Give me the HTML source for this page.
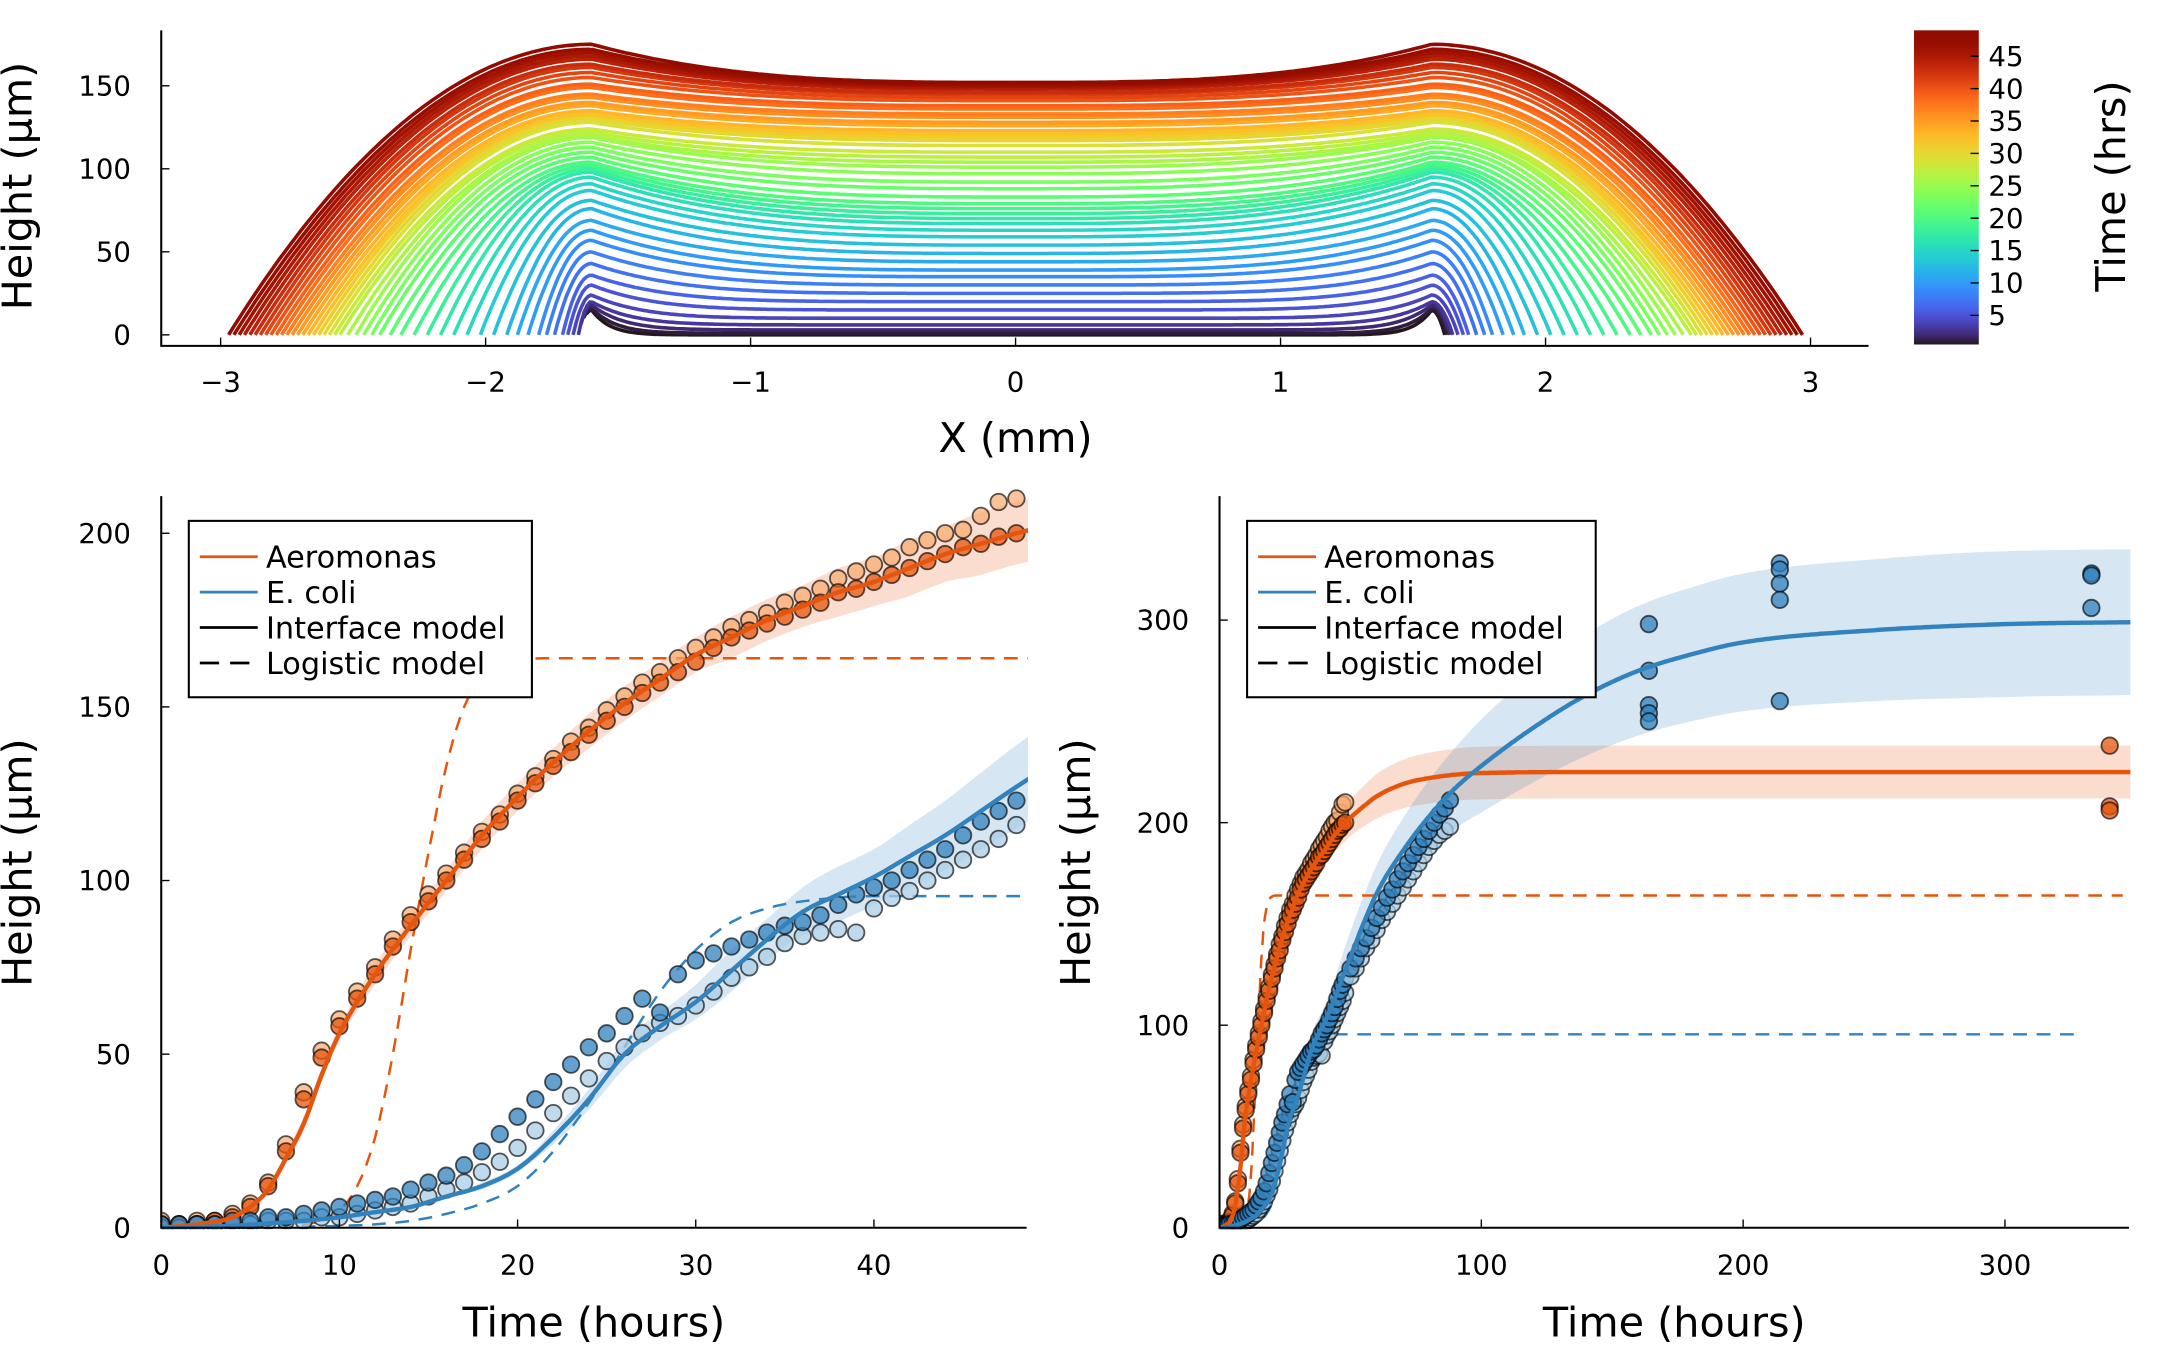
<!DOCTYPE html>
<html><head><meta charset="utf-8">
<style>
html,body{margin:0;padding:0;background:#fff;}
svg{display:block;font-family:"DejaVu Sans","Liberation Sans",sans-serif;}
</style></head>
<body>
<svg id="fig" width="2160" height="1350" viewBox="0 0 1567.5 979.7" xmlns="http://www.w3.org/2000/svg">
<defs>
<linearGradient id="turboGrad" x1="0" y1="1" x2="0" y2="0"></linearGradient>
<clipPath id="clipBL"><rect x="117" y="355" width="629" height="537"/></clipPath>
<clipPath id="clipBR"><rect x="885" y="355" width="661" height="537"/></clipPath>
</defs>
<g id="topPanel"></g>
<g id="cbar"></g>
<g id="bl"></g>
<g id="br"></g>
</svg>
<script>
// ---------- data: top panel profiles (t = 0..48 h) ----------
const profTimes = [0,1,2,3,4,5,6,7,8,9,10,11,12,13,14,15,16,17,18,19,20,21,22,23,24,25,26,27,28,29,30,31,32,33,34,35,36,37,38,39,40,41,42,43,44,45,46,47,48];
const centerHeight = [0,1,3,6,10,15,20,25,30,35,39,44,49,54,59,63,67,70,73,76,79,83,88,92,97,101,104,107,110,114,117,119,121,123,126,128,131,133,136,138,141,143,145,146,148,149,150,151,152];
const rimExtra = [15,15,15,14,14,15,16,18,20,22,24,25,27,27,28,28,28,28,27,26,25,24,22,21,19,18,16,15,14,14,13,13,12,12,12,12,12,12,13,13,14,15,16,17,18,19,20,21,23];
const edgeRadius = [1.62,1.63,1.64,1.65,1.67,1.69,1.71,1.74,1.77,1.80,1.84,1.88,1.92,1.97,2.02,2.07,2.12,2.17,2.22,2.27,2.32,2.36,2.40,2.43,2.46,2.49,2.52,2.55,2.57,2.59,2.61,2.63,2.65,2.67,2.69,2.71,2.73,2.75,2.77,2.79,2.81,2.83,2.85,2.87,2.89,2.91,2.93,2.95,2.97];
const topXTicks = [-3,-2,-1,0,1,2,3];
const topYTicks = [0,50,100,150];
const cbarTicks = [5,10,15,20,25,30,35,40,45];

// ---------- data: growth curves ----------
const dataTimes = [0,1,2,3,4,5,6,7,8,9,10,11,12,13,14,15,16,17,18,19,20,21,22,23,24,25,26,27,28,29,30,31,32,33,34,35,36,37,38,39,40,41,42,43,44,45,46,47,48];
const aeroRepA = [1,1,1,2,3,6,12,22,37,49,58,66,73,81,88,94,100,106,112,117,123,128,133,137,142,146,150,154,157,160,163,167,170,172,174,176,178,180,183,184,186,188,190,192,194,196,197,199,200];
const aeroRepB = [2,1,2,2,4,7,13,24,39,51,60,68,75,83,90,96,102,108,114,119,125,130,135,140,144,149,153,157,160,164,167,170,173,175,177,180,182,184,187,189,191,193,196,198,200,201,205,209,210];
const ecoliRepA = [1,1,1,1,2,2,3,3,4,5,6,7,8,9,11,13,15,18,22,27,32,37,42,47,52,56,61,66,62,73,77,79,81,83,85,87,88,90,93,96,98,100,103,106,109,113,117,120,123];
const ecoliRepB = [0,0,1,1,1,1,2,2,2,3,3,4,5,6,7,9,11,13,16,19,23,28,33,38,43,48,52,56,59,61,64,68,72,75,78,82,84,85,86,85,92,95,97,100,103,106,109,112,116];
const ecoliExtTimes = [50,52,54,56,58,60,62,64,66,68,70,72,74,76,78,80,82,84,86,88];
const ecoliExtA = [128,133,138,143,148,153,158,163,167,172,176,180,184,188,192,196,200,204,207,211];
const ecoliExtB = [124,128,133,138,142,147,152,156,160,164,168,172,176,180,184,188,191,194,196,198];
const ecoliLateT = [164,164,164,164,164,214,214,214,214,214,333,333,333];
const ecoliLateV = [298,275,258,254,250,328,325,318,310,260,323,322,306];
const aeroLateT = [340,340,340];
const aeroLateV = [238,208,206];

const aeroModelT = [0,2,4,5,6,7,8,9,10,12,14,16,18,20,22,24,26,28,30,32,34,36,38,40,42,44,46,48,55,60,70,80,100,150,350];
const aeroModelV = [0,1,3,6,11,20,30,44,56,73,87,100,113,124,134,143,151,158,165,170,175,179,183,186,190,194,197,200,208,213,219,222,224.5,225,225];
const aeroBandHalf = [0,0.5,1,1,1,1.5,2,2,2,3,3,3,4,4,4,5,5,5,5,6,6,6,7,7,8,8,9,9,10,11,12,12.5,13,13,13];
const ecoliModelT = [0,4,8,10,12,14,16,18,20,22,24,26,28,30,32,34,36,38,40,42,44,46,48,60,70,80,90,100,120,140,160,180,200,250,300,350];
const ecoliModelV = [0,0.6,2,3,4.5,6,9,12,17,26,37,50,58,65,74,83,91,96,101,107,113,120,127,165,186,203,217,228,247,263,275,283,289,295,298,299];
const ecoliBandHalf = [0,0,0,0,0,0,0,1,1,2,3,4,4,5,6,6,7,8,8,9,10,11,12,14,16,18,20,23,27,30,32,33,34,35,36,36];
const aeroLogT = [0,6,8,9,10,11,12,13,14,15,16,17,18,19,20,22,25,345];
const aeroLogV = [0,0.3,1,2,5,12,26,50,80,108,133,150,158,162,163.5,164,164,164];
const ecoliLogT = [0,8,12,14,16,18,20,22,24,26,28,30,32,34,36,40,329];
const ecoliLogV = [0,0.3,1,2,4,7,12,22,36,52,68,80,88,92,94,95.5,95.5];
const blXTicks = [0,10,20,30,40];
const blYTicks = [0,50,100,150,200];
const brXTicks = [0,100,200,300];
const brYTicks = [0,100,200,300];
const legendLabels = ['Aeromonas','E. coli','Interface model','Logistic model'];

// ---------- helpers ----------
const NS = 'http://www.w3.org/2000/svg';
function mk(tag, parent){ const e=document.createElementNS(NS,tag); parent.appendChild(e); return e; }
function turbo(x){
  x=Math.max(0,Math.min(1,x));
  const r=0.13572138+x*(4.61539260+x*(-42.66032258+x*(132.13108234+x*(-152.94239396+x*59.28637943))));
  const g=0.09140261+x*(2.19418839+x*(4.84296658+x*(-14.18503333+x*(4.27729857+x*2.82956604))));
  const b=0.10667330+x*(12.64194608+x*(-60.58204836+x*(110.36276771+x*(-89.90310912+x*27.34824973))));
  const c=v=>Math.round(255*Math.max(0,Math.min(1,v)));
  return 'rgb('+c(r)+','+c(g)+','+c(b)+')';
}
// monotone cubic (Fritsch-Carlson) dense sampling for smooth drawing
function smooth(T,V){
  const n=T.length, d=[], m=[];
  for(let i=0;i<n-1;i++) d.push((V[i+1]-V[i])/(T[i+1]-T[i]));
  m[0]=d[0]; m[n-1]=d[n-2];
  for(let i=1;i<n-1;i++){ m[i]=(d[i-1]*d[i]<=0)?0:(d[i-1]+d[i])/2; }
  for(let i=0;i<n-1;i++){
    if(d[i]===0){m[i]=0;m[i+1]=0;continue;}
    const a=m[i]/d[i], b=m[i+1]/d[i], s=a*a+b*b;
    if(s>9){const k=3/Math.sqrt(s); m[i]=k*a*d[i]; m[i+1]=k*b*d[i];}
  }
  const outT=[], outV=[];
  for(let i=0;i<n-1;i++){
    const h=T[i+1]-T[i], steps=Math.max(4,Math.min(60,Math.round(h*2)));
    for(let k=0;k<steps;k++){
      const s=k/steps, s2=s*s, s3=s2*s;
      const v=(2*s3-3*s2+1)*V[i]+(s3-2*s2+s)*h*m[i]+(-2*s3+3*s2)*V[i+1]+(s3-s2)*h*m[i+1];
      outT.push(T[i]+s*h); outV.push(v);
    }
  }
  outT.push(T[n-1]); outV.push(V[n-1]);
  return [outT,outV];
}
const ORANGE='#e6550d', BLUE='#3182bd';

// ---------- top panel ----------
const topG=document.getElementById('topPanel');
const tx=x=>737+192.3*x, ty=h=>243-1.205*h;
const tMin=0.5, tMax=49;
const tc=t=>(t-tMin)/(tMax-tMin);
profTimes.forEach((t,i)=>{
  const hc=centerHeight[i], hr=hc+rimExtra[i], R=edgeRadius[i];
  const rimL=1.6, rimR=1.57;
  const p=3+20*Math.exp(-t/3);
  const pts=[];
  for(let k=0;k<=300;k++){
    const x=-R+2*R*k/300;
    const rim = x<0?rimL:rimR;
    const ax=Math.abs(x);
    let h;
    if(ax<=rim){ h=hc+(hr-hc)*Math.pow(ax/rim,p); }
    else { const v=(ax-rim)/Math.max(0.05,R-rim); h=hr*Math.max(0,1-v*v); }
    pts.push(tx(x).toFixed(1)+','+ty(h).toFixed(1));
  }
  const pl=mk('polyline',topG);
  
  
  pl.setAttribute('points',pts.join(' '));
  pl.setAttribute('fill','none');
  pl.setAttribute('stroke',turbo(tc(t)));
  pl.setAttribute('stroke-width','2.6');
});
let ax1=mk('path',topG);


ax1.setAttribute('d','M117,22 V251 H1356');
ax1.setAttribute('stroke','#000');ax1.setAttribute('fill','none');ax1.setAttribute('stroke-width','1.5');
topXTicks.forEach(v=>{
  const l=mk('line',topG);
  
  
  l.setAttribute('x1',tx(v));l.setAttribute('x2',tx(v));l.setAttribute('y1',251);l.setAttribute('y2',245);l.setAttribute('stroke','#000');
  const s=mk('text',topG);
  
  
  s.setAttribute('x',tx(v));s.setAttribute('y',284);s.setAttribute('text-anchor','middle');s.setAttribute('font-size','20');
  s.textContent=(v<0?'\u2212'+(-v):String(v));
});
topYTicks.forEach(v=>{
  const l=mk('line',topG);
  
  
  l.setAttribute('x1',117);l.setAttribute('x2',123);l.setAttribute('y1',ty(v));l.setAttribute('y2',ty(v));l.setAttribute('stroke','#000');
  const s=mk('text',topG);
  
  
  s.setAttribute('x',95);s.setAttribute('y',ty(v)+7);s.setAttribute('text-anchor','end');s.setAttribute('font-size','20');
  s.textContent=String(v);
});
let tl=mk('text',topG);


tl.setAttribute('x',737);tl.setAttribute('y',328);tl.setAttribute('text-anchor','middle');tl.setAttribute('font-size','30');tl.textContent='X (mm)';
tl=mk('text',topG);


tl.setAttribute('transform','translate(23,135) rotate(-90)');tl.setAttribute('text-anchor','middle');tl.setAttribute('font-size','30');tl.textContent='Height (\u00b5m)';

// ---------- colorbar ----------
const grad=document.getElementById('turboGrad');
for(let k=0;k<=40;k++){const st=mk('stop',grad);st.setAttribute('offset',(k/40).toFixed(3));st.setAttribute('stop-color',turbo(k/40));}
const cb=document.getElementById('cbar');
const cy=v=>250-(v-tMin)/(tMax-tMin)*228;
let cr=mk('rect',cb);


cr.setAttribute('x',1389);cr.setAttribute('y',22);cr.setAttribute('width',47);cr.setAttribute('height',228);cr.setAttribute('fill','url(#turboGrad)');
cbarTicks.forEach(v=>{
  const l=mk('line',cb);
  
  
  l.setAttribute('x1',1430);l.setAttribute('x2',1436);l.setAttribute('y1',cy(v));l.setAttribute('y2',cy(v));l.setAttribute('stroke','#000');
  const s=mk('text',cb);
  
  
  s.setAttribute('x',1443);s.setAttribute('y',cy(v)+7);s.setAttribute('font-size','20');s.textContent=String(v);
});
tl=mk('text',cb);


tl.setAttribute('transform','translate(1542,135) rotate(-90)');tl.setAttribute('text-anchor','middle');tl.setAttribute('font-size','30');tl.textContent='Time (hrs)';

// ---------- growth panels ----------
function panel(g, X, Y, clip, xTicks, yTicks, opts){
  const inner=mk('g',g);
  inner.setAttribute('clip-path','url(#'+clip+')');
  const path=(T,V)=>T.map((t,i)=>(i?'L':'M')+X(t).toFixed(1)+','+Y(V[i]).toFixed(1)).join(' ');
  function band(T,V,H,color,name){
    const [sT,sV]=smooth(T,V);
    const [,sH]=smooth(T,H);
    const up=sT.map((t,i)=>X(t).toFixed(1)+','+Y(sV[i]+sH[i]).toFixed(1));
    const dn=sT.map((t,i)=>X(t).toFixed(1)+','+Y(Math.max(0,sV[i]-sH[i])).toFixed(1)).reverse();
    const p=mk('polygon',inner);
    
    
    p.setAttribute('points',up.concat(dn).join(' '));p.setAttribute('fill',color);p.setAttribute('fill-opacity','0.2');
  }
  function line(T,V,color,dash,w,name){
    const [sT,sV]=smooth(T,V);
    const p=mk('path',inner);
    
    
    p.setAttribute('d',path(sT,sV));p.setAttribute('fill','none');p.setAttribute('stroke',color);p.setAttribute('stroke-width',w);
    if(dash)p.setAttribute('stroke-dasharray','10,7');
  }
  function pts(T,V,fill,name){
    T.forEach((t,i)=>{
      const c=mk('circle',inner);
      
      
      c.setAttribute('cx',X(t).toFixed(1));c.setAttribute('cy',Y(V[i]).toFixed(1));c.setAttribute('r',6);
      c.setAttribute('fill',fill);c.setAttribute('stroke','rgba(0,0,0,0.65)');c.setAttribute('stroke-width','1.3');
    });
  }
  band(aeroModelT,aeroModelV,aeroBandHalf,ORANGE,'aeromonas-band');
  band(ecoliModelT,ecoliModelV,ecoliBandHalf,BLUE,'ecoli-band');
  line(aeroLogT,aeroLogV,ORANGE,true,1.8,'aeromonas-logistic-line');
  line(ecoliLogT,ecoliLogV,BLUE,true,1.8,'ecoli-logistic-line');
  pts(dataTimes,aeroRepB,'rgba(250,170,110,0.7)','aeromonas-point-rep2');
  pts(dataTimes,aeroRepA,'rgba(230,85,13,0.75)','aeromonas-point-rep1');
  pts(dataTimes,ecoliRepB,'rgba(170,205,230,0.75)','ecoli-point-rep2');
  pts(dataTimes,ecoliRepA,'rgba(49,130,189,0.75)','ecoli-point-rep1');
  if(opts.long){
    pts(ecoliExtTimes,ecoliExtB,'rgba(170,205,230,0.75)','ecoli-point-rep2');
    pts(ecoliExtTimes,ecoliExtA,'rgba(49,130,189,0.75)','ecoli-point-rep1');
    pts(ecoliLateT,ecoliLateV,'rgba(49,130,189,0.75)','ecoli-late-point');
    pts(aeroLateT,aeroLateV,'rgba(230,85,13,0.75)','aeromonas-late-point');
  }
  line(aeroModelT,aeroModelV,ORANGE,false,3.2,'aeromonas-model-line');
  line(ecoliModelT,ecoliModelV,BLUE,false,3.2,'ecoli-model-line');
  const a=mk('path',g);
  
  
  a.setAttribute('d','M'+opts.x0+',360 V891 H'+opts.x1);a.setAttribute('stroke','#000');a.setAttribute('fill','none');a.setAttribute('stroke-width','1.5');
  xTicks.forEach(v=>{
    const l=mk('line',g);
    
    
    l.setAttribute('x1',X(v));l.setAttribute('x2',X(v));l.setAttribute('y1',891);l.setAttribute('y2',885);l.setAttribute('stroke','#000');
    const s=mk('text',g);
    
    
    s.setAttribute('x',X(v));s.setAttribute('y',925);s.setAttribute('text-anchor','middle');s.setAttribute('font-size','20');s.textContent=String(v);
  });
  yTicks.forEach(v=>{
    const l=mk('line',g);
    
    
    l.setAttribute('x1',opts.x0);l.setAttribute('x2',opts.x0+6);l.setAttribute('y1',Y(v));l.setAttribute('y2',Y(v));l.setAttribute('stroke','#000');
    const s=mk('text',g);
    
    
    s.setAttribute('x',opts.x0-22);s.setAttribute('y',Y(v)+7);s.setAttribute('text-anchor','end');s.setAttribute('font-size','20');s.textContent=String(v);
  });
  let t=mk('text',g);
  
  
  t.setAttribute('x',(opts.x0+opts.x1)/2);t.setAttribute('y',970);t.setAttribute('text-anchor','middle');t.setAttribute('font-size','30');t.textContent='Time (hours)';
  t=mk('text',g);
  
  
  t.setAttribute('transform','translate('+(opts.x0-94)+',626) rotate(-90)');t.setAttribute('text-anchor','middle');t.setAttribute('font-size','30');t.textContent='Height (\u00b5m)';
  const lg=mk('g',g);
  
  
  const lx=opts.x0+20;
  const box=mk('rect',lg);
  
  
  box.setAttribute('x',lx);box.setAttribute('y',378);box.setAttribute('width',opts.lw);box.setAttribute('height',128);box.setAttribute('fill','#fff');box.setAttribute('stroke','#000');box.setAttribute('stroke-width','1.5');
  const cols=[ORANGE,BLUE,'#000','#000'];
  legendLabels.forEach((lab,i)=>{
    const yy=404+25.7*i;
    const l=mk('line',lg);
    
    
    l.setAttribute('x1',lx+8);l.setAttribute('x2',lx+50);l.setAttribute('y1',yy);l.setAttribute('y2',yy);l.setAttribute('stroke',cols[i]);l.setAttribute('stroke-width','2');
    if(i===3)l.setAttribute('stroke-dasharray','14,8');
    const s=mk('text',lg);
    
    
    s.setAttribute('x',lx+56);s.setAttribute('y',yy+8);s.setAttribute('font-size','22');s.textContent=lab;
  });
}
panel(document.getElementById('bl'), t=>117+12.93*t, v=>891-2.52*v, 'clipBL', blXTicks, blYTicks, {x0:117,x1:745,lw:249,long:false});
panel(document.getElementById('br'), t=>885+1.9*t, v=>891-1.47*v, 'clipBR', brXTicks, brYTicks, {x0:885,x1:1545,lw:253,long:true});
</script>
</body></html>
